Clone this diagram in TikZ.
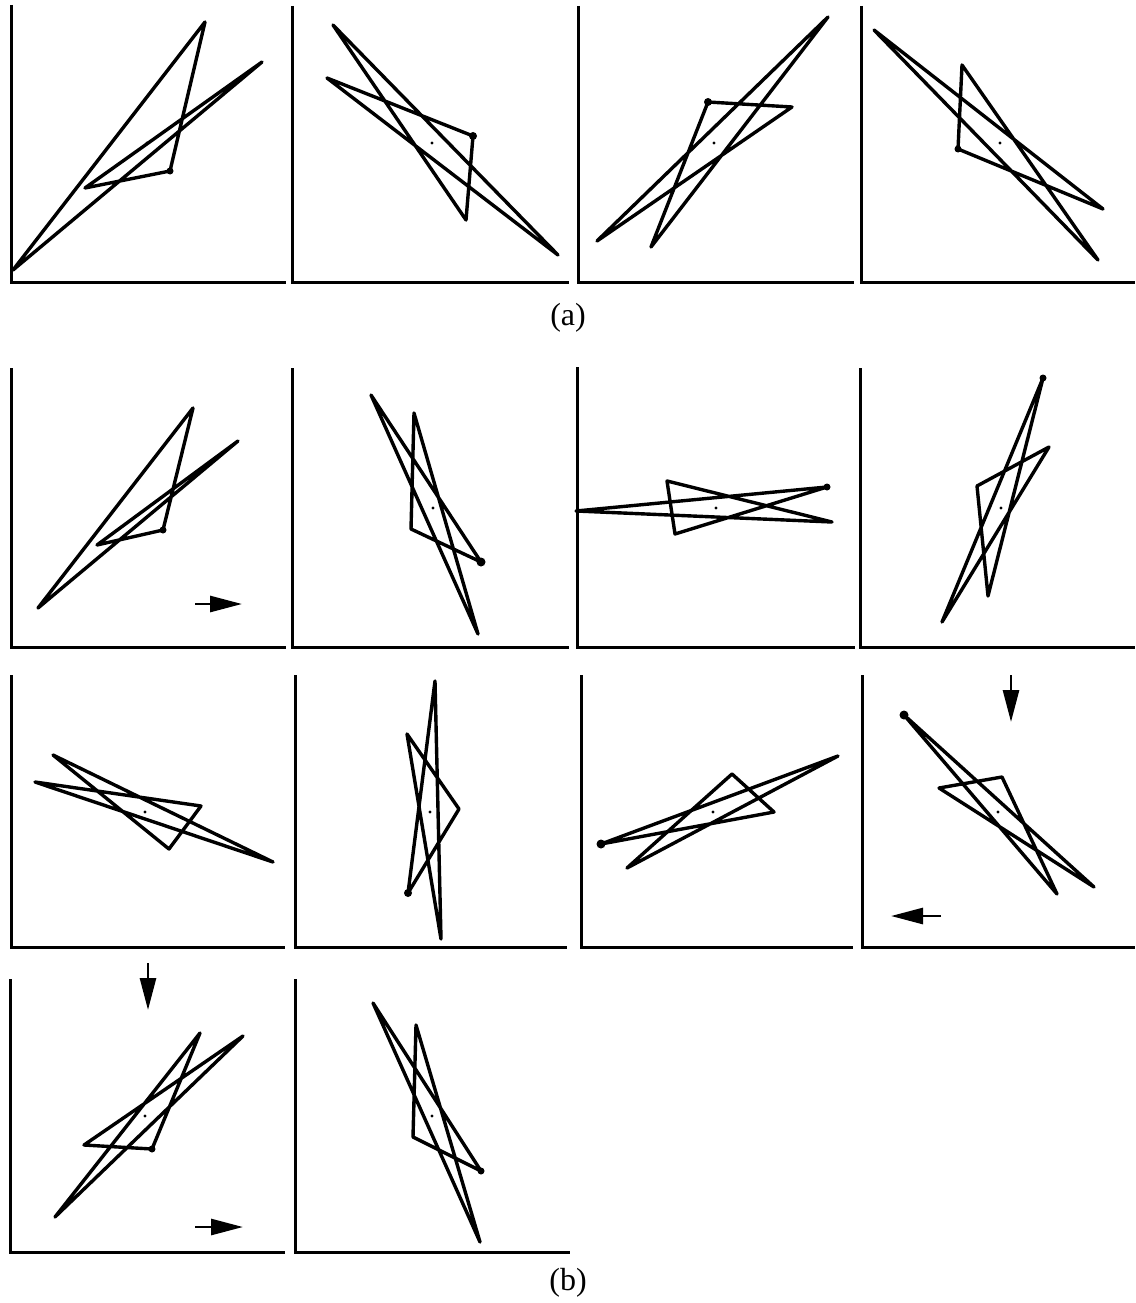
\documentclass[tikz,border=0pt]{standalone}
\usepackage{fontspec}
\setmainfont{Liberation Serif}
\usetikzlibrary{arrows.meta}
\tikzset{
  axisline/.style={line width=3pt, line join=miter},
  starline/.style={line width=3.4pt, line join=round, line cap=round},
  vdot/.style={fill=black},
  motion/.style={line width=2.8pt, -{Triangle[length=32pt,width=16pt]}},
  caption/.style={font=\fontsize{32}{38}\selectfont, inner sep=0pt}
}
\begin{document}
\begin{tikzpicture}[x=1pt,y=-1pt]
\useasboundingbox (0,0) rectangle (1135,1303);
% ---------- (a) ----------
\draw[axisline] (11,5) -- (11,282) -- (286,282);
\draw[axisline] (292,6) -- (292,282) -- (569,282);
\draw[axisline] (578,6) -- (578,282) -- (854,282);
\draw[axisline] (861,6) -- (861,282) -- (1135,282);
% a1
\draw[starline] (13,270) -- (205,22) -- (170,171) -- (85,188) -- (262,62) -- cycle;
\fill[vdot] (170,171) circle[radius=3.5pt];
\fill (147,143) circle[radius=1.6pt];
% a2
\draw[starline] (333,25) -- (558,255) -- (327,78) -- (473,136) -- (466,220) -- cycle;
\fill[vdot] (473,136) circle[radius=4pt];
\fill (432,143) circle[radius=1.6pt];
% a3
\draw[starline] (708,102) -- (792,107) -- (597,241) -- (828,17) -- (651,247) -- cycle;
\fill[vdot] (708,102) circle[radius=4pt];
\fill (714,143) circle[radius=1.6pt];
% a4
\draw[starline] (874,30) -- (1103,209) -- (958,149) -- (962,65) -- (1098,260) -- cycle;
\fill[vdot] (958,149) circle[radius=3.5pt];
\fill (1000,143) circle[radius=1.6pt];
\node[caption] (capa) at (568,318) {(a)};
% ---------- (b) row 1 ----------
\draw[axisline] (11,368) -- (11,647) -- (286,647);
\draw[axisline] (292,368) -- (292,647) -- (569,647);
\draw[axisline] (577,367) -- (577,647) -- (855,647);
\draw[axisline] (860,368) -- (860,647) -- (1135,647);
% b1
\draw[starline] (38,608) -- (193,408) -- (163,530) -- (97,545) -- (238,441) -- cycle;
\fill[vdot] (163,530) circle[radius=3.5pt];
\coordinate (r1s) at (195,604); \coordinate (r1e) at (242,604);
\draw[motion] (r1s) -- (r1e);
% b2
\draw[starline] (371,395) -- (481,562) -- (411,529) -- (414,413) -- (478,634) -- cycle;
\fill[vdot] (481,562) circle[radius=4.5pt];
\fill (433,508) circle[radius=1.6pt];
% b3
\draw[starline] (576,511) -- (827,487) -- (675,534) -- (667,481) -- (832,522) -- cycle;
\fill[vdot] (827,487) circle[radius=3.5pt];
\fill (716,508) circle[radius=1.6pt];
% b4
\draw[starline] (1043,378) -- (942,622) -- (1049,447) -- (977,486) -- (988,596) -- cycle;
\fill[vdot] (1043,378) circle[radius=3.5pt];
\fill (1001,508) circle[radius=1.6pt];
% ---------- (b) row 2 ----------
\draw[axisline] (11,675) -- (11,947) -- (285,947);
\draw[axisline] (295,675) -- (295,947) -- (567,947);
\draw[axisline] (581,675) -- (581,947) -- (853,947);
\draw[axisline] (862,675) -- (862,947) -- (1135,947);
% b5
\draw[starline] (53,755) -- (273,862) -- (35,782) -- (201,806) -- (169,849) -- cycle;
\fill (145,812) circle[radius=1.6pt];
% b6
\draw[starline] (435,681) -- (441,939) -- (407,734) -- (459,809) -- (408,893) -- cycle;
\fill[vdot] (408,893) circle[radius=4pt];
\fill (430,812) circle[radius=1.6pt];
% b7
\draw[starline] (601,844) -- (838,756) -- (627,868) -- (732,774) -- (774,812) -- cycle;
\fill[vdot] (601,844) circle[radius=4.5pt];
\fill (713,812) circle[radius=1.6pt];
% b8
\draw[starline] (904,715) -- (1094,887) -- (939,788) -- (1002,777) -- (1057,894) -- cycle;
\fill[vdot] (904,715) circle[radius=4.5pt];
\fill (998,812) circle[radius=1.6pt];
\coordinate (d8s) at (1011,675); \coordinate (d8e) at (1011,722);
\draw[motion] (d8s) -- (d8e);
\coordinate (l8s) at (941,916); \coordinate (l8e) at (891,916);
\draw[motion] (l8s) -- (l8e);
% ---------- (b) row 3 ----------
\draw[axisline] (10,979) -- (10,1252) -- (285,1252);
\draw[axisline] (295,979) -- (295,1252) -- (570,1252);
% b9
\draw[starline] (55,1217) -- (200,1033) -- (152,1149) -- (84,1145) -- (243,1036) -- cycle;
\fill[vdot] (152,1149) circle[radius=3.5pt];
\fill (145,1116) circle[radius=1.6pt];
\coordinate (d9s) at (148,963); \coordinate (d9e) at (148,1010);
\draw[motion] (d9s) -- (d9e);
\coordinate (r9s) at (195,1227); \coordinate (r9e) at (243,1227);
\draw[motion] (r9s) -- (r9e);
% b10
\draw[starline] (373,1003) -- (481,1171) -- (413,1137) -- (416,1025) -- (480,1242) -- cycle;
\fill[vdot] (481,1171) circle[radius=3.5pt];
\fill (432,1116) circle[radius=1.6pt];
\node[caption] (capb) at (568,1283) {(b)};
\end{tikzpicture}
\end{document}
